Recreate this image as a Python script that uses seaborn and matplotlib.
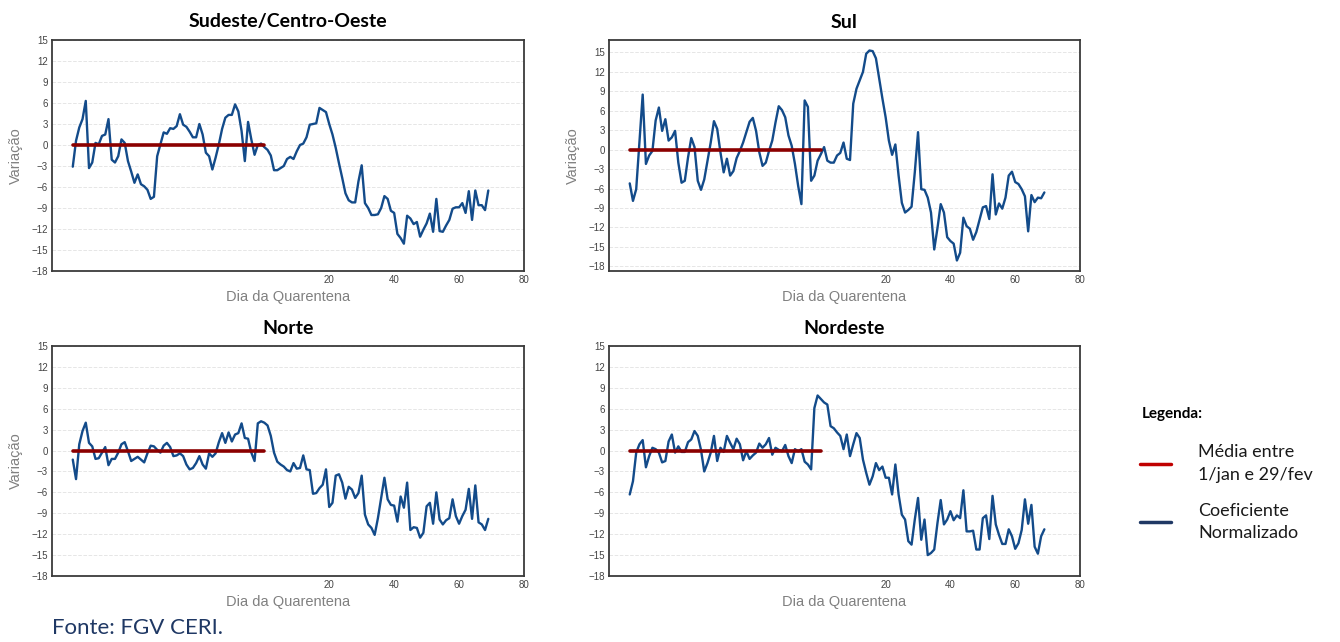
import numpy as np
import pandas as pd
import matplotlib.pyplot as plt
import seaborn as sns
from matplotlib.lines import Line2D

# dias relativos ao inicio da quarentena (1/jan = -59)
dias = np.arange(-59, 70)
n_base = 60  # 1/jan a 29/fev
media_base = np.zeros(n_base)

sudeste = [
    -3.1, 0.6, 2.5, 3.7, 6.3, -3.3, -2.5, 0.3, 0.1, 1.3,
    1.5, 3.7, -2.1, -2.5, -1.6, 0.8, 0.3, -2.3, -3.8, -5.4,
    -4.2, -5.6, -5.9, -6.4, -7.7, -7.4, -1.6, 0.1, 1.8, 1.6,
    2.4, 2.3, 2.7, 4.4, 2.9, 2.6, 1.9, 1.1, 1.1, 3.0,
    1.5, -1.1, -1.6, -3.5, -1.8, 0.1, 2.3, 3.9, 4.3, 4.3,
    5.8, 4.8, 2.0, -2.3, 3.3, 0.8, -1.4, 0.0, 0.2, -0.3,
    -0.7, -1.5, -3.6, -3.6, -3.3, -3.0, -2.0, -1.7, -2.0, -0.9,
    0.0, 0.2, 1.1, 2.9, 3.0, 3.1, 5.3, 5.0, 4.7, 3.0,
    1.5, -0.4, -2.6, -4.7, -6.9, -7.9, -8.2, -8.2, -5.2, -2.9,
    -8.3, -9.0, -10.0, -10.0, -9.9, -9.0, -7.3, -7.7, -9.4, -9.7,
    -12.7, -13.3, -14.1, -10.1, -10.5, -11.3, -11.0, -13.1, -12.1, -11.2,
    -9.8, -12.4, -7.7, -12.3, -12.4, -11.5, -10.7, -9.1, -8.9, -8.9,
    -8.3, -9.7, -6.6, -10.7, -6.5, -8.6, -8.6, -9.3, -6.5,
]

sul = [
    -5.2, -7.9, -6.1, 1.1, 8.5, -2.2, -0.9, -0.2, 4.5, 6.5,
    2.9, 4.7, 1.4, 1.9, 2.9, -2.0, -5.1, -4.8, -1.2, 1.8,
    0.4, -4.8, -6.2, -4.6, -1.7, 1.1, 4.4, 3.2, -0.4, -3.5,
    -1.4, -4.0, -3.3, -1.3, -0.2, 1.1, 2.7, 4.3, 4.9, 2.9,
    -0.4, -2.5, -2.0, -0.2, 1.4, 4.2, 6.7, 6.1, 5.0, 2.2,
    0.6, -2.2, -5.6, -8.4, 7.6, 6.6, -4.8, -4.0, -1.7, -0.7,
    0.4, -1.7, -2.0, -2.0, -0.9, -0.5, 1.1, -1.4, -1.6, 7.1,
    9.4, 10.7, 12.0, 14.8, 15.3, 15.2, 14.1, 11.0, 7.9, 5.0,
    1.4, -0.8, 0.8, -4.0, -8.2, -9.7, -9.3, -8.8, -3.5, 2.7,
    -6.1, -6.2, -7.4, -9.7, -15.4, -12.1, -8.4, -9.7, -13.5, -14.1,
    -14.5, -17.1, -15.9, -10.5, -11.8, -12.2, -13.9, -12.7, -10.8, -8.9,
    -8.7, -10.7, -3.8, -10.0, -8.3, -9.1, -7.4, -4.0, -3.4, -5.0,
    -5.3, -6.1, -7.2, -12.6, -7.0, -8.1, -7.4, -7.5, -6.6,
]

norte = [
    -1.3, -4.1, 0.9, 2.8, 4.0, 1.1, 0.6, -1.2, -1.1, -0.3,
    0.5, -2.1, -1.2, -1.2, -0.3, 0.9, 1.2, -0.1, -1.5, -1.2,
    -0.9, -1.3, -1.7, -0.4, 0.7, 0.6, 0.1, -0.3, 0.7, 1.1,
    0.5, -0.8, -0.7, -0.4, -0.8, -2.0, -2.7, -2.5, -1.8, -0.8,
    -2.0, -2.6, -0.4, -0.9, -0.4, 1.2, 2.5, 1.1, 2.6, 1.3,
    2.3, 2.5, 3.9, 1.8, 1.7, -0.3, -1.5, 3.9, 4.2, 4.0,
    3.6, 2.1, -0.3, -1.6, -2.0, -2.3, -2.8, -3.0, -1.8, -2.6,
    -2.5, -0.7, -2.7, -2.8, -6.2, -6.1, -5.4, -4.9, -2.7, -8.1,
    -7.5, -3.6, -3.4, -4.6, -6.9, -5.2, -5.6, -6.8, -6.1, -3.6,
    -9.2, -10.6, -11.1, -12.1, -9.7, -6.8, -3.9, -7.0, -7.8, -7.9,
    -10.2, -6.6, -8.2, -4.6, -11.4, -11.0, -11.1, -12.5, -11.8, -8.0,
    -7.5, -10.5, -6.0, -9.9, -10.6, -10.0, -9.7, -7.0, -9.4, -10.5,
    -9.4, -8.5, -5.5, -9.8, -5.0, -10.3, -10.6, -11.4, -9.8,
]

nordeste = [
    -6.3, -4.4, -0.3, 0.9, 1.5, -2.4, -0.8, 0.4, 0.2, -0.3,
    -1.7, -1.5, 1.3, 2.3, -0.3, 0.6, -0.2, -0.2, 1.2, 1.6,
    2.8, 2.1, 0.1, -3.0, -1.8, -0.3, 2.1, -1.5, 0.4, -0.2,
    2.1, 1.1, 0.2, 1.7, 0.9, -1.4, -0.1, -1.2, -0.7, -0.3,
    1.0, 0.4, 0.9, 1.8, -0.6, 0.4, 0.1, -0.1, 0.8, -0.8,
    -1.8, 0.2, -0.1, 0.2, -1.6, -2.0, -2.7, 6.1, 7.9, 7.4,
    6.9, 6.6, 3.5, 3.2, 2.6, 2.1, 0.2, 2.3, -0.8, 0.9,
    2.5, 1.8, -1.3, -3.2, -4.9, -3.7, -1.8, -2.8, -2.3, -3.9,
    -3.9, -6.3, -2.0, -6.3, -9.2, -9.9, -13.0, -13.5, -9.9, -6.8,
    -12.8, -9.9, -15.0, -14.7, -14.2, -10.4, -7.1, -10.6, -9.9, -8.7,
    -10.0, -9.3, -9.7, -5.7, -11.6, -11.6, -11.5, -14.2, -14.2, -9.7,
    -9.3, -12.7, -6.5, -10.6, -12.1, -13.4, -13.4, -11.3, -12.3, -14.1,
    -13.3, -11.4, -7.0, -10.5, -7.8, -13.8, -14.8, -12.3, -11.3,
]

regioes = ["Sudeste/Centro-Oeste", "Sul", "Norte", "Nordeste"]
series = [sudeste, sul, norte, nordeste]
x_ticks = [20, 40, 60, 80]
y_ticks = np.arange(-18, 16, 3)

azul = "#134b8a"
vermelho = "#8b0000"
cinza_label = "#808080"

sns.set_theme(style="white")
plt.rcParams['font.family'] = ['Liberation Sans', 'DejaVu Sans']

fig = plt.figure(figsize=(13.4, 6.42), dpi=100)
W, H = 1340, 642
# caixas dos eixos em pixels: esquerda, topo, direita, base
caixas = [(52, 40, 524, 271), (609, 40, 1080, 271),
          (52, 346, 524, 576), (609, 346, 1080, 576)]

for regiao, valores, (l, t, r, b) in zip(regioes, series, caixas):
    ax = fig.add_axes([l / W, 1 - b / H, (r - l) / W, (b - t) / H])
    sns.lineplot(x=dias, y=valores, color=azul, linewidth=1.7, ax=ax, legend=False)
    sns.lineplot(x=dias[:n_base], y=media_base, color=vermelho, linewidth=2.6,
                 ax=ax, legend=False)
    ax.set_xticks(x_ticks)
    ax.set_yticks(y_ticks)
    ax.yaxis.grid(True, color="#e6e6e6", linestyle="--", linewidth=0.7)
    ax.xaxis.grid(False)
    for sp in ax.spines.values():
        sp.set_color("#3a3a3a")
        sp.set_linewidth(1.3)
    ax.tick_params(axis="both", length=0, labelsize=7, labelcolor="#444444", pad=3)
    ax.set_title(regiao, fontsize=14, fontweight="bold", color="black",
                 family=["Lato", "DejaVu Sans"], pad=9)
    ax.set_xlabel("Dia da Quarentena", fontsize=10.5, color=cinza_label, labelpad=3.5)
    if regiao != "Nordeste":
        ax.set_ylabel("Variação", fontsize=10.5, color=cinza_label, labelpad=6)
    else:
        ax.set_ylabel("")

# legenda montada a parte, como no slide original
fig.text(1142 / W, 1 - 414 / H, "Legenda:", fontsize=11, fontweight="bold", color="black",
         family=["Lato", "DejaVu Sans"], va="center", ha="left")
handles = [Line2D([], [], color="#c00000", linewidth=2.5),
           Line2D([], [], color="#1f3864", linewidth=2.5)]
labels = ["Média entre\n1/jan e 29/fev", "Coeficiente\nNormalizado"]
leg = fig.legend(handles, labels, loc="upper left", bbox_to_anchor=(1124 / W, 1 - 428 / H),
                 frameon=False, handlelength=1.7, handletextpad=1.5, labelspacing=1.1,
                 prop={"family": ["Lato", "DejaVu Sans"], "size": 13})
for txt in leg.get_texts():
    txt.set_linespacing(1.5)
    txt.set_color("#1a1a1a")

fig.text(52 / W, 1 - 628 / H, "Fonte: FGV CERI.", fontsize=16, color="#1f3864",
         family=["Lato", "DejaVu Sans"], va="center", ha="left")

fig.savefig("out.png", dpi=100)
